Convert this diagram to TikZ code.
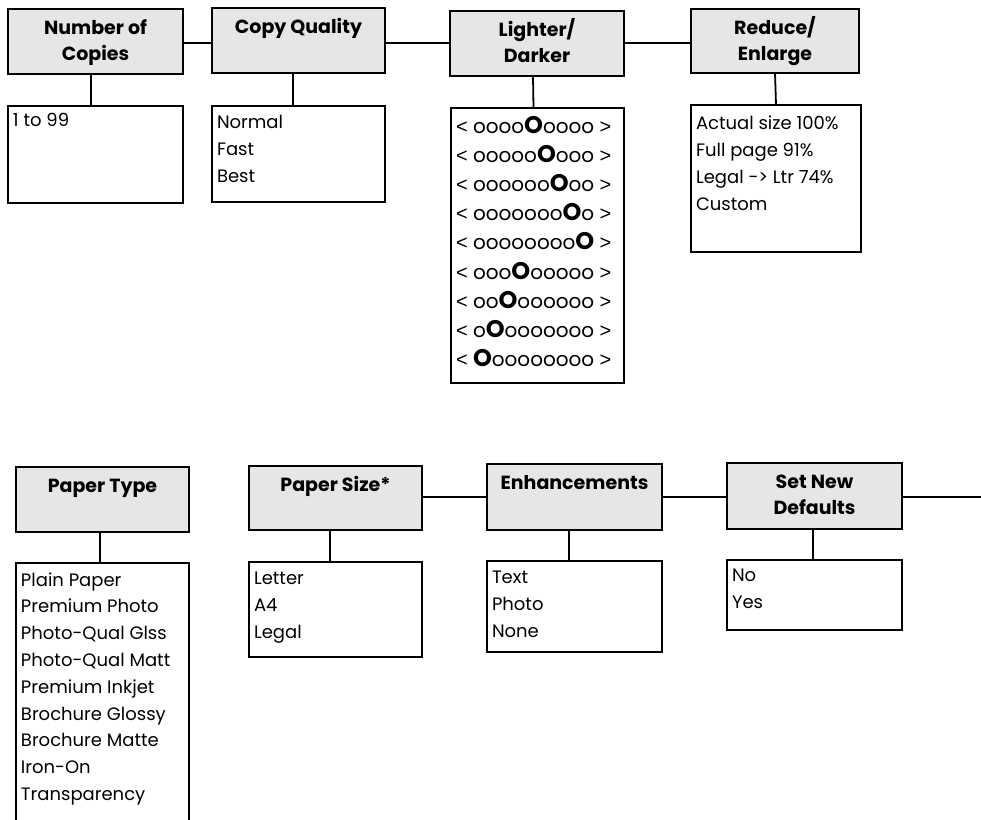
\documentclass[tikz,border=0pt]{standalone}
\usepackage{fontspec}
\setmainfont{Poppins}
\newfontfamily\arrowfont{Liberation Sans}
\definecolor{hdrgray}{HTML}{E6E6E6}
% header box: width, height, text
\newcommand\HB[3]{\parbox[t][#2pt][t]{#1pt}{\centering\fontsize{19}{26}\selectfont\bfseries\rule{0pt}{25pt}#3}}
% list box: width, height, first baseline, pitch, text
\newcommand\LB[5]{\parbox[t][#2pt][t]{#1pt}{\raggedright\leftskip=5pt\fontsize{18}{#4}\selectfont\rule{0pt}{#3pt}#5}}
\newcommand\BO{{\fontsize{24}{24}\selectfont\bfseries O}}
\newcommand\LT{{\arrowfont <}}
\newcommand\GT{{\arrowfont >}}
\newcommand\LDrow[2]{\fontsize{20}{29.2}\selectfont\LT{} #1\BO{}#2 \GT}
\begin{document}
\begin{tikzpicture}[x=1pt,y=-1pt,
  hdr/.style={draw, line width=1.8pt, fill=hdrgray, inner sep=0pt, outer sep=0pt, anchor=north west},
  lst/.style={draw, line width=1.8pt, fill=white, inner sep=0pt, outer sep=0pt, anchor=north west},
  conn/.style={line width=1.8pt}]
\useasboundingbox (0,0) rectangle (981,819);
\clip (0,0) rectangle (981,819);
\coordinate (toprow) at (0,43);
\coordinate (botrow) at (0,497);
\coordinate (rend) at (981,497);

% ---------- top row ----------
\node[hdr] (noc) at (8,9)   {\HB{175}{65}{Number of\\Copies}};
\node[hdr] (cq)  at (212,8) {\HB{173}{65}{Copy Quality}};
\node[hdr] (ld)  at (450,11){\HB{174}{65}{Lighter/\\Darker}};
\node[hdr] (re)  at (691,9) {\HB{168}{64}{Reduce/\\Enlarge}};

\node[lst] (noc1) at (8,106)  {\LB{175}{97}{20}{27}{1 to 99}};
\node[lst] (cq1)  at (212,106){\LB{173}{96}{22}{27}{Normal\\Fast\\Best}};
\node[lst] (ld1)  at (451,108){\LB{173}{275}{25}{29.2}{%
\LDrow{oooo}{oooo}\\
\LDrow{ooooo}{ooo}\\
\LDrow{oooooo}{oo}\\
\LDrow{ooooooo}{o}\\
\LDrow{oooooooo}{}\\
\LDrow{ooo}{ooooo}\\
\LDrow{oo}{oooooo}\\
\LDrow{o}{ooooooo}\\
\LDrow{}{oooooooo}}};
\node[lst] (re1)  at (691,105){\LB{170}{147}{24}{27}{Actual size 100\%\\Full page 91\%\\Legal -> Ltr 74\%\\Custom}};

\draw[conn] (noc.east |- toprow) -- (cq.west |- toprow);
\draw[conn] (cq.east |- toprow) -- (ld.west |- toprow);
\draw[conn] (ld.east |- toprow) -- (re.west |- toprow);

\draw[conn] ([xshift=-4.5pt]noc.south) -- ([xshift=-4.5pt]noc1.north);
\draw[conn] ([xshift=-5.5pt]cq.south) -- ([xshift=-5.5pt]cq1.north);
\draw[conn] ([xshift=-4pt]ld.south) -- ([xshift=-4pt]ld1.north);
\draw[conn] (re.south) -- (re1.north);

% ---------- bottom row ----------
\node[hdr] (pt)  at (16,467)  {\HB{173}{65}{Paper Type}};
\node[hdr] (ps)  at (249,466) {\HB{173}{64}{Paper Size*}};
\node[hdr] (enh) at (487,464) {\HB{175}{66}{Enhancements}};
\node[hdr] (snd) at (727,463) {\HB{175}{66}{Set New\\Defaults}};

\node[lst] (pt1)  at (16,563) {\LB{173}{280}{23}{26.8}{Plain Paper\\Premium Photo\\Photo-Qual Glss\\Photo-Qual Matt\\Premium Inkjet\\Brochure Glossy\\Brochure Matte\\Iron-On\\Transparency}};
\node[lst] (ps1)  at (249,562){\LB{173}{95}{22}{27}{Letter\\A4\\Legal}};
\node[lst] (enh1) at (487,561){\LB{175}{91}{22}{27}{Text\\Photo\\None}};
\node[lst] (snd1) at (727,560){\LB{175}{70}{21}{27}{No\\Yes}};

\draw[conn] (ps.east |- botrow) -- (enh.west |- botrow);
\draw[conn] (enh.east |- botrow) -- (snd.west |- botrow);
\draw[conn] (snd.east |- botrow) -- (rend);

\draw[conn] ([xshift=-2.5pt]pt.south) -- ([xshift=-2.5pt]pt1.north);
\draw[conn] ([xshift=-5.5pt]ps.south) -- ([xshift=-5.5pt]ps1.north);
\draw[conn] ([xshift=-5.5pt]enh.south) -- ([xshift=-5.5pt]enh1.north);
\draw[conn] ([xshift=-1.5pt]snd.south) -- ([xshift=-1.5pt]snd1.north);
\end{tikzpicture}
\end{document}
